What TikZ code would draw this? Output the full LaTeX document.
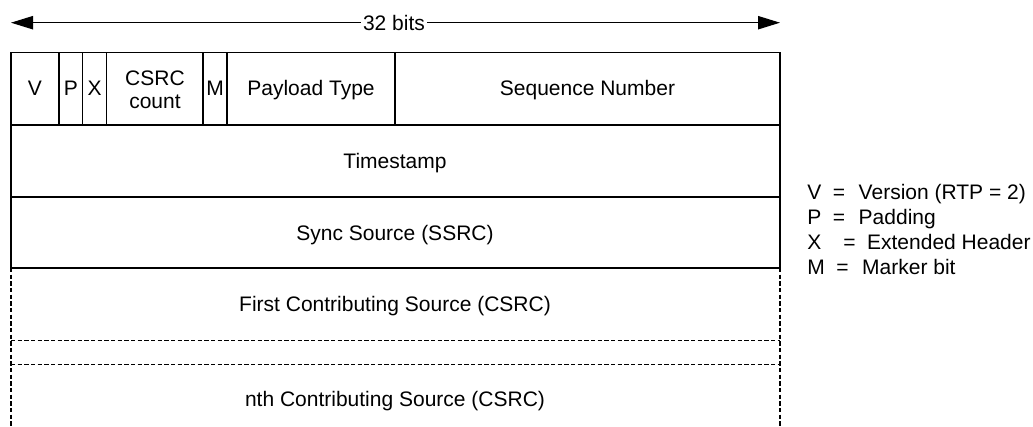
\documentclass[tikz,border=0pt]{standalone}
\usepackage{fontspec}
\setmainfont{Liberation Sans}
\usepackage{tikz}
\usetikzlibrary{arrows.meta}

\newcommand{\lblfont}{\fontsize{15.75}{17.5}\selectfont}
\tikzset{
  lbl/.style={font=\lblfont, inner sep=0.75pt},
  cell/.style={lbl, text height=11.3pt, text depth=0pt},
  grid/.style={line width=0.8pt},
  opt/.style={line width=0.8pt, dash pattern=on 3.2pt off 1.8pt},
  bitarrow/.style={line width=0.8pt, -{Triangle[length=16.5pt,width=10pt]}}
}

\begin{document}
\begin{tikzpicture}[x=0.75pt,y=0.75pt,yscale=-1,xscale=1]
\useasboundingbox (0,0) rectangle (1033,427);
% width arrow
\coordinate (lefttip) at (11,22.7);
\coordinate (righttip) at (780,22.7);
\node[lbl, inner sep=1.5pt] (bits) at (394,22.7) {32 bits};
\draw[bitarrow] (bits) -- (lefttip);
\draw[bitarrow] (bits) -- (righttip);
% fixed header
\draw[grid] (11,52.7) rectangle (780,268);
\draw[grid] (59,52.7) -- (59,125);
\draw[grid] (82.7,52.7) -- (82.7,125);
\draw[grid] (106.7,52.7) -- (106.7,125);
\draw[grid] (203,52.7) -- (203,125);
\draw[grid] (227,52.7) -- (227,125);
\draw[grid] (395,52.7) -- (395,125);
\draw[grid] (11,125) -- (780,125);
\draw[grid] (11,197) -- (780,197);
% contributing sources
\draw[opt] (11,268) -- (11,427);
\draw[opt] (780,268) -- (780,427);
\draw[opt] (11,340.5) -- (780,340.5);
\draw[opt] (11,364.3) -- (780,364.3);
% field labels
\node[cell] (ver) at (35,88) {V};
\node[cell] (pad) at (70.8,88) {P};
\node[cell] (ext) at (94.7,88) {X};
\node[lbl, align=center] (cc) at (155,89.5) {CSRC\\count};
\node[cell] (mark) at (215,88) {M};
\node[cell] (pt) at (311,88) {Payload Type};
\node[cell] (seq) at (587.5,88) {Sequence Number};
\node[cell] (ts) at (395,161) {Timestamp};
\node[cell] (ssrc) at (395,232.5) {Sync Source (SSRC)};
\node[cell] (csrcfirst) at (395,304.3) {First Contributing Source (CSRC)};
\node[cell] (csrcn) at (395,399) {nth Contributing Source (CSRC)};
% legend
\node[lbl, anchor=base west] (legv) at (806,200) {V\hspace{0.55em}=\hspace{0.65em}Version (RTP = 2)};
\node[lbl, anchor=base west] (legp) at (806,225) {P\hspace{0.55em}=\hspace{0.65em}Padding};
\node[lbl, anchor=base west] (legx) at (806,250) {X\hspace{1.05em}=\hspace{0.55em}Extended Header};
\node[lbl, anchor=base west] (legm) at (806,275) {M\hspace{0.55em}=\hspace{0.65em}Marker bit};
\end{tikzpicture}
\end{document}
